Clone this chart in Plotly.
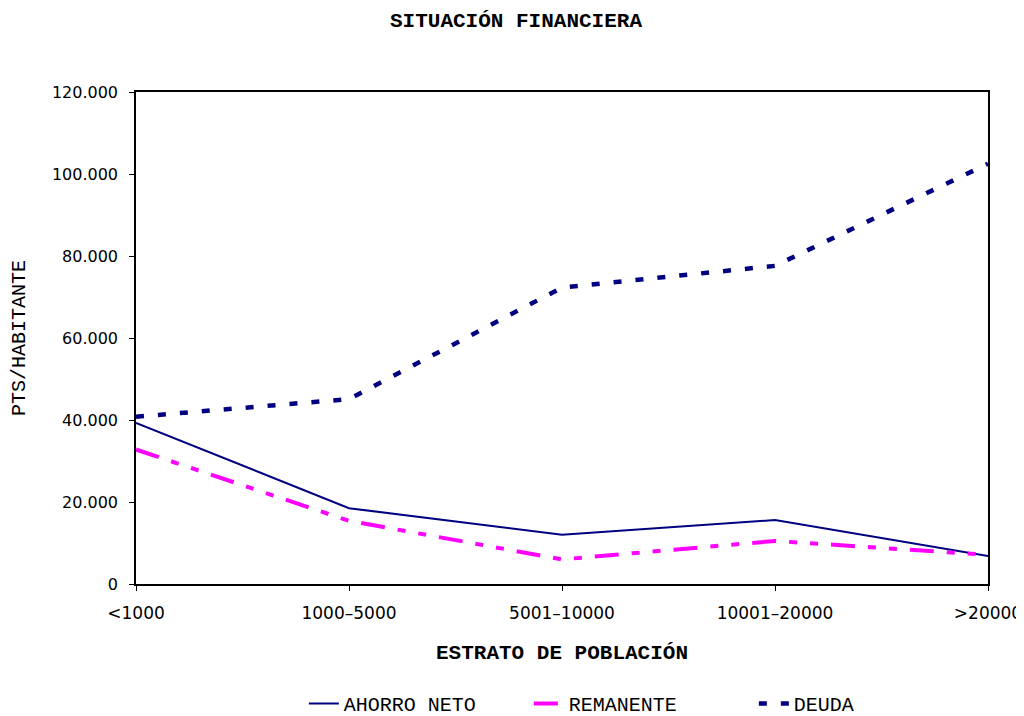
import plotly.graph_objects as go

categories = ["<1000", "1000–5000", "5001–10000", "10001–20000", ">20000"]
ahorro_neto = [39300, 18500, 12000, 15600, 6800]
remanente = [32800, 15400, 6000, 10500, 7100]
deuda = [40800, 45100, 72300, 77600, 102500]
y_tickvals = [0, 20000, 40000, 60000, 80000, 100000, 120000]
y_ticktext = ["0", "20.000", "40.000", "60.000", "80.000", "100.000", "120.000"]

mono = "Liberation Mono, Courier New, monospace"
sans = "DejaVu Sans, sans-serif"

W, H = 1016, 708  # page body has an 8px margin

fig = go.Figure()
fig.add_trace(go.Scatter(x=categories, y=ahorro_neto, name="AHORRO NETO", mode="lines",
                         line=dict(color="#000080", width=2)))
fig.add_trace(go.Scatter(x=categories, y=remanente, name="REMANENTE", mode="lines",
                         line=dict(color="#FF00FF", width=4, dash="24px,13px,8px,13px,8px,13px")))
fig.add_trace(go.Scatter(x=categories, y=deuda, name="DEUDA", mode="lines",
                         line=dict(color="#000080", width=4.5, dash="8px,14px")))

fig.update_layout(
    width=W, height=H,
    margin=dict(l=128, r=36, t=84, b=132, autoexpand=False),
    paper_bgcolor="white", plot_bgcolor="white",
    title=dict(text="<b>SITUACIÓN FINANCIERA</b>", x=0.5, xref="container", xanchor="center",
               y=1 - 12 / H, yref="container", yanchor="middle",
               font=dict(family=mono, size=21, color="black")),
    xaxis=dict(type="category", range=[0, len(categories) - 1], showgrid=False,
               showline=True, linecolor="black", linewidth=1.5, mirror=True,
               ticks="outside", ticklen=5, tickcolor="black", ticklabelstandoff=8,
               tickfont=dict(family=sans, size=17, color="black"), automargin=False,
               title=dict(text="<b>ESTRATO DE POBLACIÓN</b>", standoff=22,
                          font=dict(family=mono, size=21, color="black")),
               zeroline=False),
    yaxis=dict(range=[0, 120000], showgrid=False, zeroline=False,
               showline=True, linecolor="black", linewidth=1.5, mirror=True,
               ticks="outside", ticklen=5, tickcolor="black", ticklabelstandoff=8,
               tickvals=y_tickvals, ticktext=y_ticktext, automargin=False,
               tickfont=dict(family=sans, size=16, color="black"),
               title=dict(text="PTS/HABITANTE", standoff=24,
                          font=dict(family=mono, size=20, color="black"))),
    xaxis2=dict(overlaying="x", anchor="y", range=[0, len(categories) - 1],
                tickvals=list(range(len(categories))), ticks="inside", ticklen=5,
                tickcolor="black", showticklabels=False, showgrid=False, zeroline=False,
                showline=False, side="bottom"),
    yaxis2=dict(overlaying="y", anchor="x", range=[0, 120000], tickvals=y_tickvals,
                ticks="inside", ticklen=6, tickcolor="black", showticklabels=False,
                showgrid=False, zeroline=False, showline=False, side="left"),
    showlegend=True,
    legend=dict(orientation="h", x=0.197, xanchor="left", y=-0.203, yanchor="top",
                font=dict(family=mono, size=20, color="black"),
                entrywidth=180, traceorder="normal"),
)

fig.write_html("out.html")
